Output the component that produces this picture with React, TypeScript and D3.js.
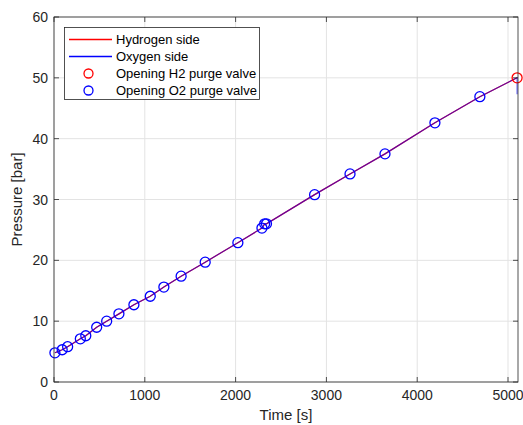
import React from 'react';
import * as d3 from 'd3';

// valve opening points (time [s], pressure [bar])
const o2Times = [10, 90, 150, 290, 350, 470, 580, 715, 880, 1060, 1210, 1400, 1665, 2025, 2290, 2320, 2340, 2870, 3260, 3645, 4195, 4690];
const o2Pressures = [4.8, 5.3, 5.8, 7.1, 7.6, 9.0, 10.0, 11.2, 12.7, 14.1, 15.6, 17.4, 19.7, 22.9, 25.3, 26.0, 26.0, 30.8, 34.2, 37.5, 42.6, 46.9];
const h2Times = [5100];
const h2Pressures = [50.0];
// end of the oxygen trace after the H2 purge
const o2TailTimes = [5100, 5100];
const o2TailPressures = [50.0, 47.3];

const xTicks = [0, 1000, 2000, 3000, 4000, 5000];
const yTicks = [0, 10, 20, 30, 40, 50, 60];
const legendLabels = ['Hydrogen side', 'Oxygen side', 'Opening H2 purge valve', 'Opening O2 purge valve'];

const W = 523;
const H = 425;
const margin = { top: 17, right: 5, bottom: 43, left: 54 };

const App = () => {
  const x = d3.scaleLinear().domain([0, 5110]).range([margin.left, W - margin.right]);
  const y = d3.scaleLinear().domain([0, 60]).range([H - margin.bottom, margin.top]);

  const pts: [number, number][] = o2Times.map((t, i) => [t, o2Pressures[i]]);
  const h2Line: [number, number][] = [...pts, [h2Times[0], h2Pressures[0]]];
  const o2Line: [number, number][] = [...h2Line, [o2TailTimes[1], o2TailPressures[1]]];

  const line = d3.line<[number, number]>().x(d => x(d[0])).y(d => y(d[1]));

  const x0 = x.range()[0], x1 = x.range()[1];
  const y0 = y.range()[0], y1 = y.range()[1];
  const axisColor = '#262626';
  const font = 'Arial, "Liberation Sans", sans-serif';

  return (
    <svg width={W} height={H} style={{ position: 'absolute', left: 0, top: 0, background: '#fff' }} fontFamily={font}>
      {/* grid */}
      {xTicks.map(t => (
        <line key={'gx' + t} x1={x(t)} x2={x(t)} y1={y0} y2={y1} stroke="#e3e3e3" strokeWidth={1} />
      ))}
      {yTicks.map(t => (
        <line key={'gy' + t} x1={x0} x2={x1} y1={y(t)} y2={y(t)} stroke="#e3e3e3" strokeWidth={1} />
      ))}

      {/* data lines */}
      <path d={line(h2Line) || ''} fill="none" stroke="#ff0000" strokeWidth={1.2} />
      <path d={line(o2Line) || ''} fill="none" stroke="#0000ff" strokeWidth={1.2} opacity={0.6} />

      {/* markers */}
      {pts.map((d, i) => (
        <circle key={'o' + i} cx={x(d[0])} cy={y(d[1])} r={5} fill="none" stroke="#0000ff" strokeWidth={1.3} />
      ))}
      {h2Times.map((t, i) => (
        <circle key={'h' + i} cx={x(t)} cy={y(h2Pressures[i])} r={5} fill="none" stroke="#ff0000" strokeWidth={1.3} />
      ))}

      {/* box + ticks */}
      <rect x={x0} y={y1} width={x1 - x0} height={y0 - y1} fill="none" stroke={axisColor} strokeWidth={0.8} />
      {xTicks.map(t => (
        <g key={'tx' + t}>
          <line x1={x(t)} x2={x(t)} y1={y0} y2={y0 - 5} stroke={axisColor} strokeWidth={0.8} />
          <line x1={x(t)} x2={x(t)} y1={y1} y2={y1 + 5} stroke={axisColor} strokeWidth={0.8} />
          <text x={x(t)} y={y0 + 18} textAnchor="middle" fontSize={14} fill={axisColor}>{t}</text>
        </g>
      ))}
      {yTicks.map(t => (
        <g key={'ty' + t}>
          <line x1={x0} x2={x0 + 5} y1={y(t)} y2={y(t)} stroke={axisColor} strokeWidth={0.8} />
          <line x1={x1} x2={x1 - 5} y1={y(t)} y2={y(t)} stroke={axisColor} strokeWidth={0.8} />
          <text x={x0 - 6} y={y(t) + 5} textAnchor="end" fontSize={14} fill={axisColor}>{t}</text>
        </g>
      ))}

      {/* axis labels */}
      <text x={(x0 + x1) / 2} y={H - 5} textAnchor="middle" fontSize={15} fill={axisColor}>Time [s]</text>
      <text transform={`translate(22,${(y0 + y1) / 2}) rotate(-90)`} textAnchor="middle" fontSize={15} fill={axisColor}>Pressure [bar]</text>

      {/* legend */}
      <g transform="translate(64,27)">
        <rect x={0.5} y={0.5} width={195} height={72} fill="#fff" stroke={axisColor} strokeWidth={0.8} />
        {legendLabels.map((lab, i) => {
          const cy = 12 + i * 17;
          return (
            <g key={lab}>
              {i === 0 && <line x1={5} x2={48} y1={cy + 0.5} y2={cy + 0.5} stroke="#ff0000" strokeWidth={1.4} />}
              {i === 1 && <line x1={5} x2={48} y1={cy + 0.5} y2={cy + 0.5} stroke="#0000ff" strokeWidth={1.4} />}
              {i === 2 && <circle cx={24.5} cy={cy + 0.5} r={4.5} fill="none" stroke="#ff0000" strokeWidth={1.3} />}
              {i === 3 && <circle cx={24.5} cy={cy + 0.5} r={4.5} fill="none" stroke="#0000ff" strokeWidth={1.3} />}
              <text x={52} y={cy + 5} fontSize={13} fill="#000">{lab}</text>
            </g>
          );
        })}
      </g>
    </svg>
  );
};

export default App;
